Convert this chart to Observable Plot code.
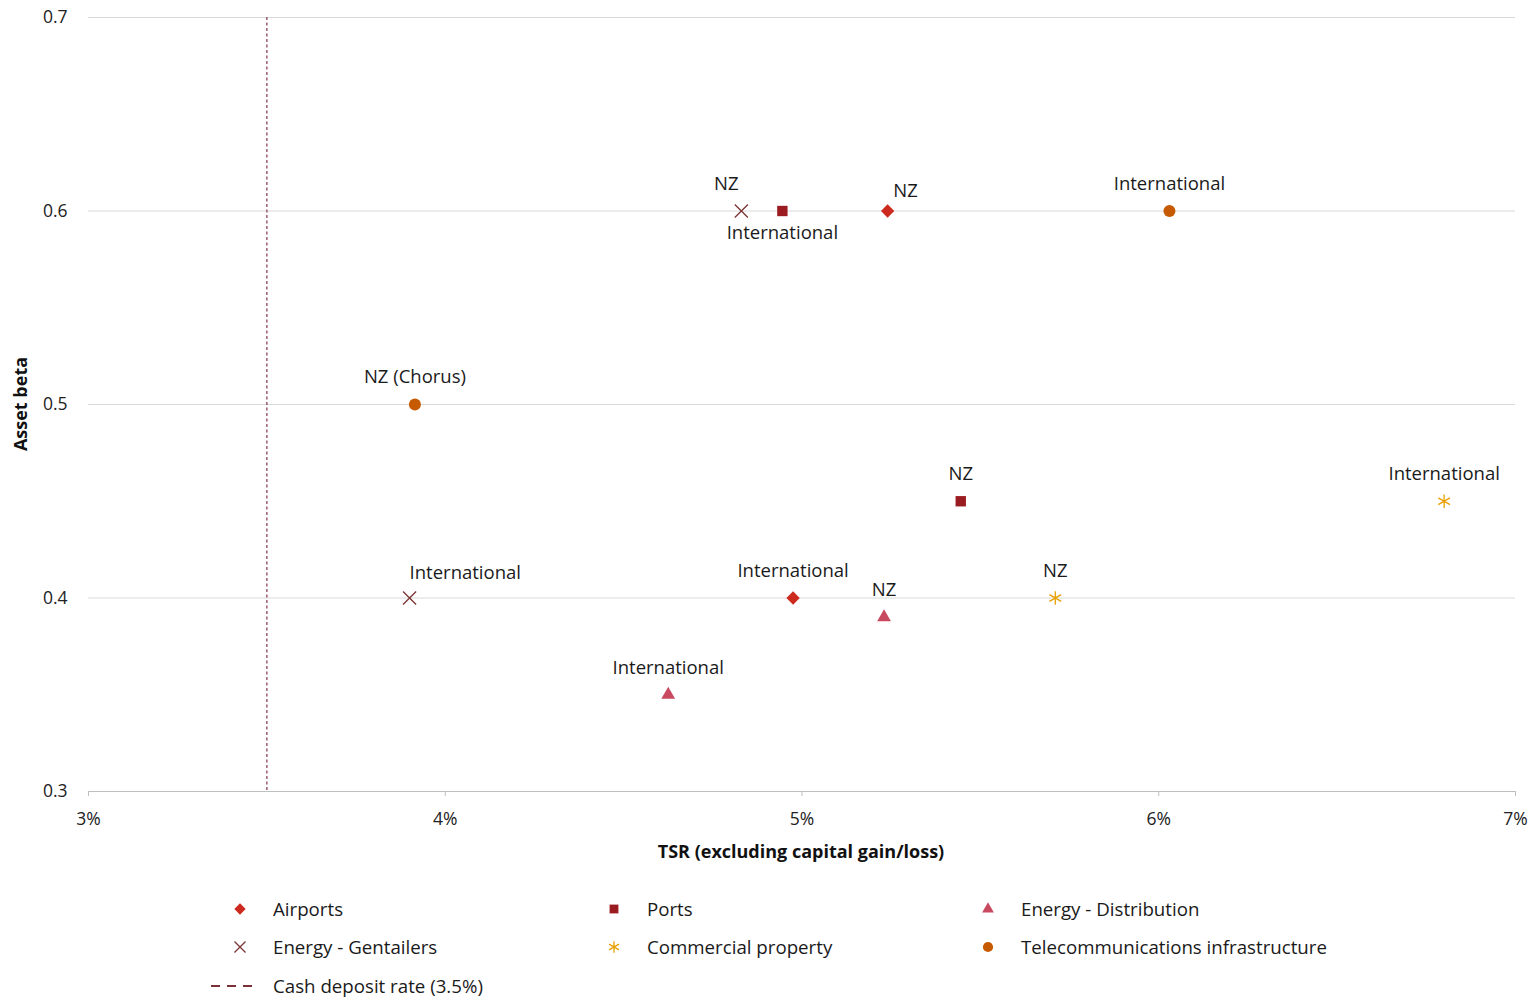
<!DOCTYPE html>
<html><head><meta charset="utf-8">
<script src="https://cdn.jsdelivr.net/npm/d3@7"></script>
<script src="https://cdn.jsdelivr.net/npm/@observablehq/plot@0.6"></script>
<style>
body{margin:0;background:#fff;font-family:"Open Sans",sans-serif;color:#1a1a1a;}
#wrap{position:relative;width:1536px;height:1000px;}
#legend{position:absolute;left:0;top:0;width:1536px;}
.li{position:absolute;display:flex;align-items:center;font-size:18.7px;white-space:nowrap;}
</style></head><body>
<div id="wrap"><div id="chart"></div><div id="legend"></div></div>
<script>
// Data
const sector = ["Energy - Gentailers","Ports","Airports","Telecommunications infrastructure","Telecommunications infrastructure","Ports","Commercial property","Energy - Gentailers","Airports","Energy - Distribution","Commercial property","Energy - Distribution"];
const region = ["NZ","International","NZ","International","NZ (Chorus)","NZ","International","International","International","NZ","NZ","International"];
const tsr = [4.83,4.945,5.24,6.03,3.915,5.445,6.80,3.90,4.975,5.23,5.71,4.625];
const beta = [0.6,0.6,0.6,0.6,0.5,0.45,0.45,0.4,0.4,0.39,0.4,0.35];
const labelPos = ["aboveLeft","below","aboveRight","above","above","above","above","aboveStart","above","above","above","above"];
const sectors = ["Airports","Ports","Energy - Distribution","Energy - Gentailers","Commercial property","Telecommunications infrastructure"];
const cashRateLabel = "Cash deposit rate (3.5%)";
const cashRate = [3.5];
const xTicks = [3,4,5,6,7];
const yTicks = [0.3,0.4,0.5,0.6,0.7];

// Styles
const sectorStyle = {
  "Airports": {symbol:"diamond2", color:"#cc2a1f", r:6, filled:true},
  "Ports": {symbol:"square2", color:"#9a1b20", r:6.6, filled:true},
  "Energy - Distribution": {symbol:"triangle2", color:"#c84a60", r:6.6, filled:true},
  "Energy - Gentailers": {symbol:"times", color:"#7a3434", r:6, filled:false},
  "Commercial property": {symbol:"asterisk", color:"#e8a000", r:6.4, filled:false},
  "Telecommunications infrastructure": {symbol:"circle", color:"#c65a00", r:6, filled:true}
};
const cashColor = "#8b4556";

const data = sector.map((s,i)=>({sector:s, region:region[i], tsr:tsr[i], beta:beta[i], pos:labelPos[i]}));
const posOff = {
  above:{dx:0,dy:-27,anchor:"middle"},
  below:{dx:0,dy:22,anchor:"middle"},
  aboveLeft:{dx:-15,dy:-27,anchor:"middle"},
  aboveRight:{dx:18,dy:-20,anchor:"middle"},
  aboveStart:{dx:0,dy:-25,anchor:"start"}
};

const font = '"Open Sans", sans-serif';
const marks = [
  Plot.ruleY(yTicks.filter(d=>d>0.3), {stroke:"#d9d9d9", strokeWidth:1}),
  Plot.ruleX(cashRate, {stroke:cashColor, strokeWidth:1.3, strokeDasharray:"3,2.5"}),
  Plot.ruleY([0.3], {stroke:"#bfbfbf", strokeWidth:1}),
  Plot.axisX({ticks:xTicks, tickFormat:d=>d+"%", tickSize:5, tickPadding:16, stroke:"#bfbfbf", fill:"#222", label:null}),
  Plot.axisY({ticks:yTicks, tickFormat:d=>d.toFixed(1), tickSize:0, tickPadding:21, fill:"#222", label:null}),
];
for (const s of sectors) {
  const st = sectorStyle[s];
  const sub = data.filter(d=>d.sector===s);
  marks.push(Plot.dot(sub, {x:"tsr", y:"beta", symbol:()=>st.symbol, r:st.r,
    fill: st.filled ? st.color : "none", stroke: st.filled ? "none" : st.color, strokeWidth:1.3}));
}
for (const p of Object.keys(posOff)) {
  const o = posOff[p];
  marks.push(Plot.text(data.filter(d=>d.pos===p), {x:"tsr", y:"beta", text:"region", dx:o.dx, dy:o.dy, textAnchor:o.anchor, fontSize:18.5, fill:"#1a1a1a"}));
}
const chart = Plot.plot({
  width:1536, height:870,
  marginTop:17, marginLeft:88, marginRight:21, marginBottom:79,
  style:{fontFamily:font, fontSize:"17.5px", background:"#fff"},
  x:{type:"linear", domain:[3,7]},
  y:{type:"linear", domain:[0.3,0.7]},
  symbol:{type:"identity"},
  marks
});
// axis titles
const svg = d3.select(chart);
svg.append("text").attr("x",801).attr("y",858).attr("text-anchor","middle")
  .attr("font-size",18).attr("font-weight","bold").attr("fill","#111").text("TSR (excluding capital gain/loss)");
svg.append("text").attr("transform","translate(27,404) rotate(-90)").attr("text-anchor","middle")
  .attr("font-size",18).attr("font-weight","bold").attr("fill","#111").text("Asset beta");
document.getElementById("chart").appendChild(chart);

// Legend
const leg = document.getElementById("legend");
const cols = [240, 614, 988];
const rows = [908, 946, 985];
const items = sectors.map(s=>({type:"sym", name:s})).concat([{type:"line", name:cashRateLabel}]);
items.forEach((it,i)=>{
  const cx = cols[i%3], cy = rows[Math.floor(i/3)];
  const div = document.createElement("div");
  div.className = "li";
  div.style.left = (cx-30)+"px";
  div.style.top = (cy-14)+"px";
  div.style.height = "28px";
  const ns = "http://www.w3.org/2000/svg";
  const sv = document.createElementNS(ns,"svg");
  sv.setAttribute("width",60); sv.setAttribute("height",28);
  if (it.type==="sym") {
    const st = sectorStyle[it.name];
    const map = {diamond2:d3.symbolDiamond2, square2:d3.symbolSquare2, triangle2:d3.symbolTriangle2, times:d3.symbolTimes, asterisk:d3.symbolAsterisk, circle:d3.symbolCircle};
    const path = document.createElementNS(ns,"path");
    const rr = st.r*0.85;
    path.setAttribute("d", d3.symbol(map[st.symbol], rr*rr*Math.PI)());
    path.setAttribute("transform","translate(30,15)");
    if (st.filled){path.setAttribute("fill",st.color);} else {path.setAttribute("fill","none");path.setAttribute("stroke",st.color);path.setAttribute("stroke-width",1.3);}
    sv.appendChild(path);
  } else {
    const ln = document.createElementNS(ns,"line");
    ln.setAttribute("x1",1); ln.setAttribute("x2",49); ln.setAttribute("y1",15); ln.setAttribute("y2",15);
    ln.setAttribute("stroke","#7a2e36"); ln.setAttribute("stroke-width",2.2); ln.setAttribute("stroke-dasharray","9,7");
    sv.appendChild(ln);
  }
  div.appendChild(sv);
  const sp = document.createElement("span");
  sp.style.marginLeft = "3px";
  sp.textContent = it.name;
  div.appendChild(sp);
  leg.appendChild(div);
});
</script>
</body></html>
